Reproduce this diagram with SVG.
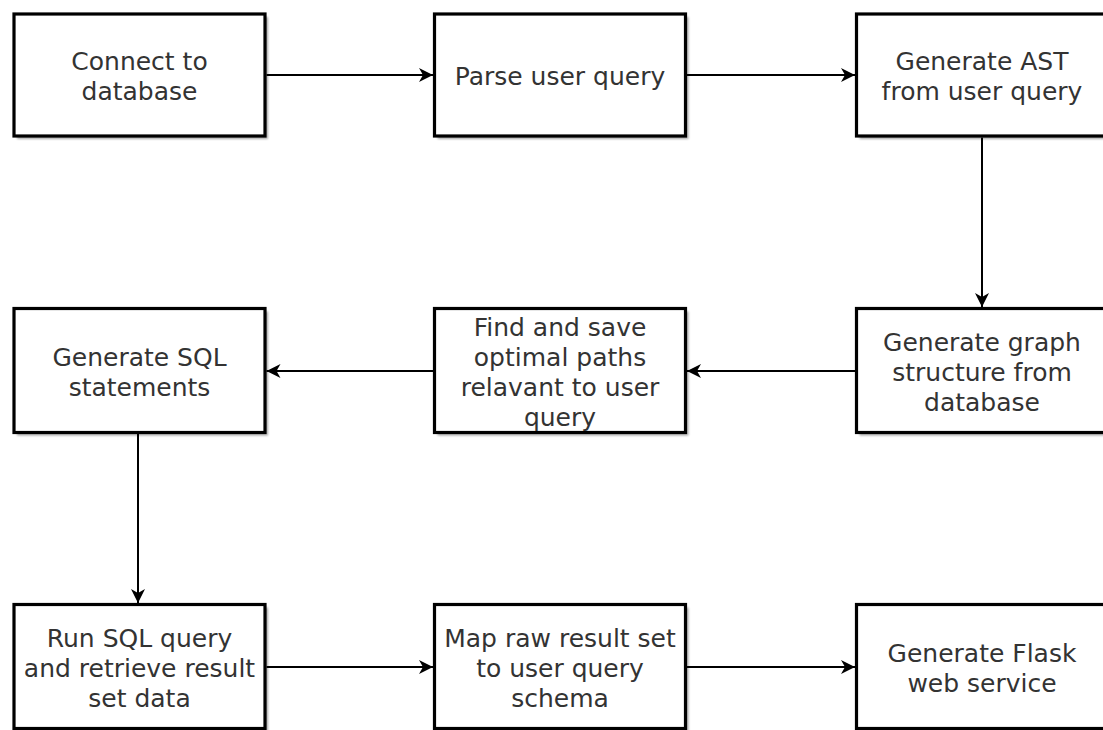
<svg xmlns="http://www.w3.org/2000/svg" width="1103" height="730" viewBox="0 0 1103 730">
<style>
.box{fill:#ffffff;stroke:#000000;stroke-width:3.2}
.shadow{fill:#000000;opacity:0.35;filter:url(#blur)}
.lbl{font-family:"DejaVu Sans",Verdana,sans-serif;font-size:25px;fill:#333333;text-anchor:middle}
.edge{fill:none;stroke:#000000;stroke-width:2;marker-end:url(#arr)}
</style>
<defs>
<filter id="blur" x="-10%" y="-10%" width="120%" height="120%"><feGaussianBlur stdDeviation="1.3"/></filter>
<marker id="arr" markerUnits="userSpaceOnUse" markerWidth="15" markerHeight="16" refX="14" refY="8" orient="auto">
<path d="M0,1 L14,8 L0,15 L4,8 Z" fill="#000000"/>
</marker>
</defs>
<g id="connectors">
<line class="edge" x1="266.5" y1="75" x2="433" y2="75"/>
<line class="edge" x1="687" y1="75" x2="855" y2="75"/>
<line class="edge" x1="982" y1="137.5" x2="982" y2="307"/>
<line class="edge" x1="855" y1="371" x2="687" y2="371"/>
<line class="edge" x1="433" y1="371" x2="266.5" y2="371"/>
<line class="edge" x1="138" y1="434" x2="138" y2="603"/>
<line class="edge" x1="266.5" y1="667" x2="433" y2="667"/>
<line class="edge" x1="687" y1="667" x2="855" y2="667"/>
</g>
<g id="n1">
<rect class="shadow" x="17" y="17" width="251" height="122"/>
<rect class="box" x="14" y="14" width="251" height="122"/>
<text class="lbl" x="139.5" y="70">Connect to</text>
<text class="lbl" x="139.5" y="100">database</text>
</g>
<g id="n2">
<rect class="shadow" x="437.5" y="17" width="251" height="122"/>
<rect class="box" x="434.5" y="14" width="251" height="122"/>
<text class="lbl" x="560" y="85">Parse user query</text>
</g>
<g id="n3">
<rect class="shadow" x="859.5" y="17" width="251" height="122"/>
<rect class="box" x="856.5" y="14" width="251" height="122"/>
<text class="lbl" x="982" y="70">Generate AST</text>
<text class="lbl" x="982" y="100">from user query</text>
</g>
<g id="n4">
<rect class="shadow" x="859.5" y="311.5" width="251" height="124"/>
<rect class="box" x="856.5" y="308.5" width="251" height="124"/>
<text class="lbl" x="982" y="351">Generate graph</text>
<text class="lbl" x="982" y="381">structure from</text>
<text class="lbl" x="982" y="411">database</text>
</g>
<g id="n5">
<rect class="shadow" x="437.5" y="311.5" width="251" height="124"/>
<rect class="box" x="434.5" y="308.5" width="251" height="124"/>
<text class="lbl" x="560" y="336">Find and save</text>
<text class="lbl" x="560" y="366">optimal paths</text>
<text class="lbl" x="560" y="396">relavant to user</text>
<text class="lbl" x="560" y="426">query</text>
</g>
<g id="n6">
<rect class="shadow" x="17" y="311.5" width="251" height="124"/>
<rect class="box" x="14" y="308.5" width="251" height="124"/>
<text class="lbl" x="139.5" y="366">Generate SQL</text>
<text class="lbl" x="139.5" y="396">statements</text>
</g>
<g id="n7">
<rect class="shadow" x="17" y="607.5" width="251" height="124"/>
<rect class="box" x="14" y="604.5" width="251" height="124"/>
<text class="lbl" x="139.5" y="647">Run SQL query</text>
<text class="lbl" x="139.5" y="677">and retrieve result</text>
<text class="lbl" x="139.5" y="707">set data</text>
</g>
<g id="n8">
<rect class="shadow" x="437.5" y="607.5" width="251" height="124"/>
<rect class="box" x="434.5" y="604.5" width="251" height="124"/>
<text class="lbl" x="560" y="647">Map raw result set</text>
<text class="lbl" x="560" y="677">to user query</text>
<text class="lbl" x="560" y="707">schema</text>
</g>
<g id="n9">
<rect class="shadow" x="859.5" y="607.5" width="251" height="124"/>
<rect class="box" x="856.5" y="604.5" width="251" height="124"/>
<text class="lbl" x="982" y="662">Generate Flask</text>
<text class="lbl" x="982" y="692">web service</text>
</g>
</svg>
